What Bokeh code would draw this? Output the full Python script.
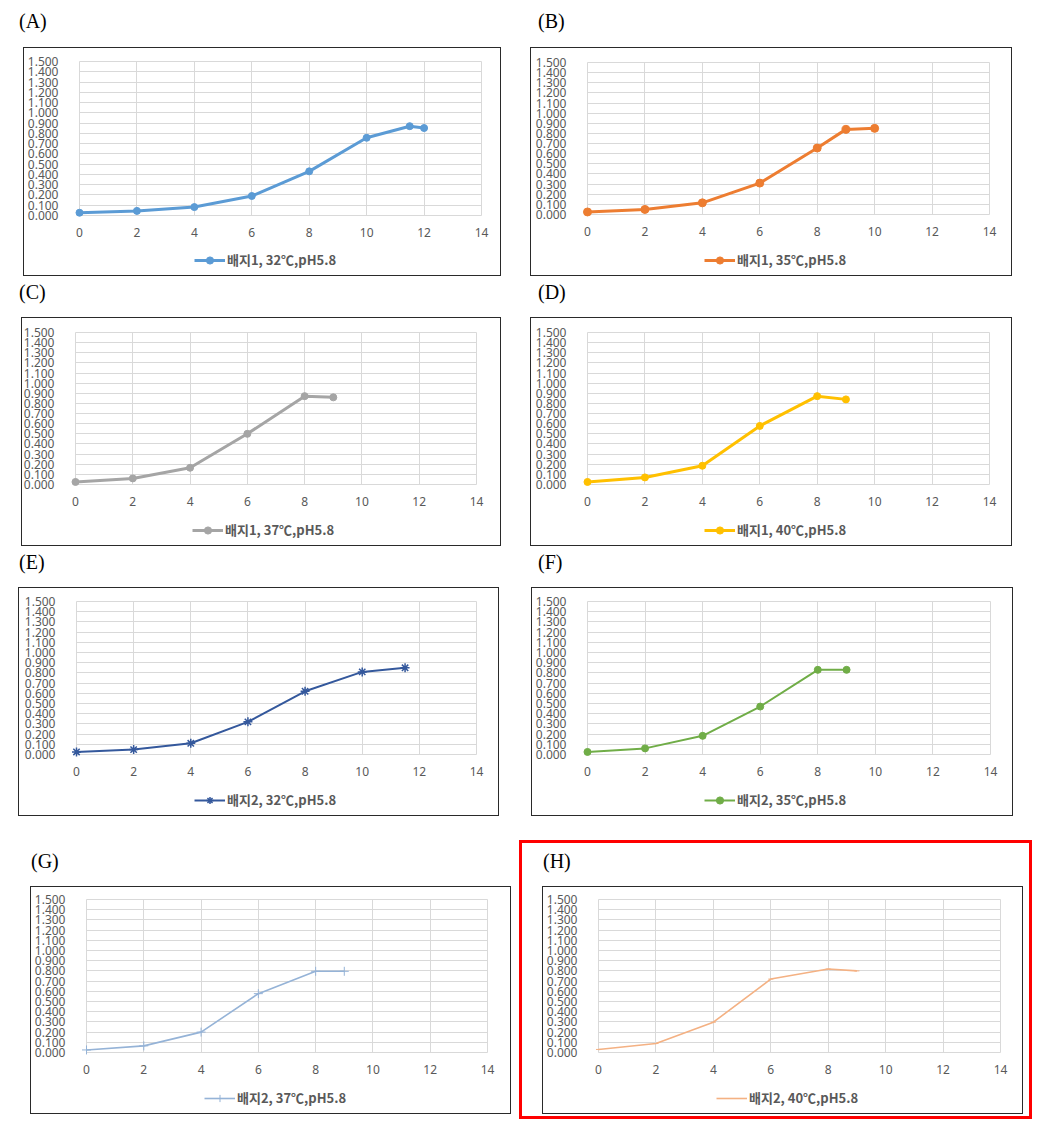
from bokeh.plotting import figure
from bokeh.models import (Legend, LegendItem, Div, Spacer, FixedTicker,
                          NumeralTickFormatter, Range1d)
from bokeh.layouts import column, row
from bokeh.embed import file_html
from bokeh.resources import INLINE

# ---------------- data ----------------
x_ticks = [0, 2, 4, 6, 8, 10, 12, 14]
y_ticks = [0.0, 0.1, 0.2, 0.3, 0.4, 0.5, 0.6, 0.7, 0.8, 0.9,
           1.0, 1.1, 1.2, 1.3, 1.4, 1.5]
X_MAX = 14
Y_MAX = 1.5

x_A = [0, 2, 4, 6, 8, 10, 11.5, 12]
y_A = [0.027, 0.045, 0.082, 0.19, 0.43, 0.757, 0.87, 0.852]
x_B = [0, 2, 4, 6, 8, 9, 10]
y_B = [0.025, 0.05, 0.115, 0.31, 0.656, 0.84, 0.85]
x_C = [0, 2, 4, 6, 8, 9]
y_C = [0.025, 0.06, 0.165, 0.50, 0.872, 0.86]
x_D = [0, 2, 4, 6, 8, 9]
y_D = [0.025, 0.07, 0.185, 0.578, 0.872, 0.84]
x_E = [0, 2, 4, 6, 8, 10, 11.5]
y_E = [0.025, 0.048, 0.11, 0.32, 0.62, 0.81, 0.85]
x_F = [0, 2, 4, 6, 8, 9]
y_F = [0.025, 0.06, 0.183, 0.47, 0.83, 0.83]
x_G = [0, 2, 4, 6, 8, 9]
y_G = [0.025, 0.065, 0.20, 0.577, 0.796, 0.796]
x_H = [0, 2, 4, 6, 8, 9]
y_H = [0.03, 0.088, 0.297, 0.72, 0.818, 0.80]

series_labels = ["배지1, 32℃,pH5.8", "배지1, 35℃,pH5.8", "배지1, 37℃,pH5.8",
                 "배지1, 40℃,pH5.8", "배지2, 32℃,pH5.8", "배지2, 35℃,pH5.8",
                 "배지2, 37℃,pH5.8", "배지2, 40℃,pH5.8"]
panel_letters = ["(A)", "(B)", "(C)", "(D)", "(E)", "(F)", "(G)", "(H)"]

# ---------------- styles ----------------
colors = ["#5B9BD5", "#ED7D31", "#A5A5A5", "#FFC000",
          "#34589C", "#70AD47", "#95B3D7", "#F4B183"]
markers = ["circle", "circle", "circle", "circle",
           "asterisk", "circle", "cross", "dash"]
msizes = [7, 8, 7, 7, 9, 7, 9, 5]
line_widths = [3, 3, 3, 3, 2, 2, 1.6, 1.6]
marker_lw = [1, 1, 1, 1, 1.5, 1, 1, 1]

# panel box (width, height) and inner plot-area insets (left, right, top, bottom)
geom = [
    (476, 227, 55, 19, 13, 60),
    (480, 227, 56, 22, 14, 61),
    (478, 227, 53, 24, 14, 61),
    (480, 227, 56, 22, 14, 61),
    (479, 227, 57, 22, 13, 61),
    (480, 227, 55, 22, 13, 61),
    (479, 226, 55, 23, 12, 61),
    (479, 226, 55, 22, 12, 61),
]
# legend bottom-left corner in px from the panel's bottom-left corner
leg_pos = [(170, 6), (173, 6), (170, 6), (173, 6),
           (175, 6), (172, 6), (173, 6), (173, 6)]

xs_all = [x_A, x_B, x_C, x_D, x_E, x_F, x_G, x_H]
ys_all = [y_A, y_B, y_C, y_D, y_E, y_F, y_G, y_H]

TICK_COLOR = "#595959"
GRID_COLOR = "#D9D9D9"


def make_panel(i):
    w, h, bl, br, bt, bb = geom[i]
    sx = (w - bl - br) / X_MAX
    sy = (h - bt - bb) / Y_MAX
    p = figure(width=w, height=h,
               x_range=Range1d(-bl / sx, X_MAX + br / sx),
               y_range=Range1d(-bb / sy, Y_MAX + bt / sy),
               output_backend="svg", toolbar_location=None, title=None,
               min_border=0)
    p.outline_line_color = None
    p.background_fill_color = "white"
    p.border_fill_color = "white"
    p.xaxis.ticker = FixedTicker(ticks=x_ticks)
    p.yaxis.ticker = FixedTicker(ticks=y_ticks)
    p.yaxis.formatter = NumeralTickFormatter(format="0.000")
    p.xaxis.fixed_location = 0
    p.yaxis.fixed_location = 0
    p.axis.axis_line_color = None
    p.axis.major_tick_line_color = None
    p.axis.minor_tick_line_color = None
    p.axis.major_label_text_color = TICK_COLOR
    p.axis.major_label_text_font = "Noto Sans"
    p.axis.major_label_text_font_size = "12px"
    p.yaxis.major_label_standoff = 15
    p.xaxis.major_label_standoff = 6
    p.grid.grid_line_color = GRID_COLOR
    p.grid.grid_line_width = 1
    try:
        p.xgrid.cross_bounds = (0, Y_MAX)
        p.ygrid.cross_bounds = (0, X_MAX)
    except Exception:
        p.grid.visible = False
        p.segment(x0=x_ticks, y0=[0] * len(x_ticks), x1=x_ticks,
                  y1=[Y_MAX] * len(x_ticks), line_color=GRID_COLOR, line_width=1)
        p.segment(x0=[0] * len(y_ticks), y0=y_ticks, x1=[X_MAX] * len(y_ticks),
                  y1=y_ticks, line_color=GRID_COLOR, line_width=1)

    ln = p.line(xs_all[i], ys_all[i], line_color=colors[i], line_width=line_widths[i])
    sc = p.scatter(xs_all[i], ys_all[i], marker=markers[i], size=msizes[i],
                   fill_color=colors[i], line_color=colors[i], line_width=marker_lw[i])
    leg = Legend(items=[LegendItem(label=series_labels[i], renderers=[ln, sc])],
                 orientation="horizontal", location=leg_pos[i],
                 border_line_color=None, background_fill_alpha=0,
                 label_text_font="Noto Sans CJK KR", label_text_font_size="13px",
                 label_text_font_style="bold", label_text_color=TICK_COLOR,
                 glyph_width=31, glyph_height=18, padding=3, margin=0,
                 spacing=0, label_standoff=2)
    p.add_layout(leg, "center")
    p.styles = {"box-shadow": "0 0 0 1px #2a2a2a"}
    return p


panels = [make_panel(i) for i in range(8)]


def label_div(text, width, height, ml, mt):
    html = ('<div style="font-family:\'Liberation Serif\',serif;font-size:20px;'
            'line-height:23px;color:#000;margin-left:%dpx;margin-top:%dpx">%s</div>'
            % (ml, mt, text))
    return Div(text=html, width=width, height=height, margin=0)


# row 1
lab1 = row(label_div(panel_letters[0], 523, 40, 11, 2),
           label_div(panel_letters[1], 500, 40, 7, 2), spacing=0)
fig1 = row(Spacer(width=16, height=227), panels[0], Spacer(width=31, height=227),
           panels[1], spacing=0)
# row 2
lab2 = row(label_div(panel_letters[2], 523, 43, 11, 6),
           label_div(panel_letters[3], 500, 43, 7, 6), spacing=0)
fig2 = row(Spacer(width=14, height=227), panels[2], Spacer(width=31, height=227),
           panels[3], spacing=0)
# row 3
lab3 = row(label_div(panel_letters[4], 523, 43, 11, 6),
           label_div(panel_letters[5], 500, 43, 7, 6), spacing=0)
fig3 = row(Spacer(width=11, height=227), panels[4], Spacer(width=34, height=227),
           panels[5], spacing=0)
# row 4
colG = column(label_div(panel_letters[6], 511, 72, 23, 35),
              row(Spacer(width=23, height=226), panels[6], Spacer(width=9, height=226),
                  spacing=0), spacing=0)
wrapH = column(label_div(panel_letters[7], 507, 44, 21, 7),
               row(Spacer(width=21, height=226), panels[7], Spacer(width=7, height=226),
                   spacing=0), Spacer(width=507, height=3), spacing=0)
wrapH.styles = {"border": "3px solid #FF0000"}
colH = column(Spacer(width=513, height=25), wrapH, spacing=0)
fig4 = row(colG, colH, spacing=0)

inner = column(Spacer(width=1000, height=8), lab1, fig1, lab2, fig2, lab3, fig3, fig4,
               spacing=0)
layout = row(Spacer(width=8, height=1100), inner, spacing=0)

open("out.html", "w").write(file_html(layout, INLINE))
